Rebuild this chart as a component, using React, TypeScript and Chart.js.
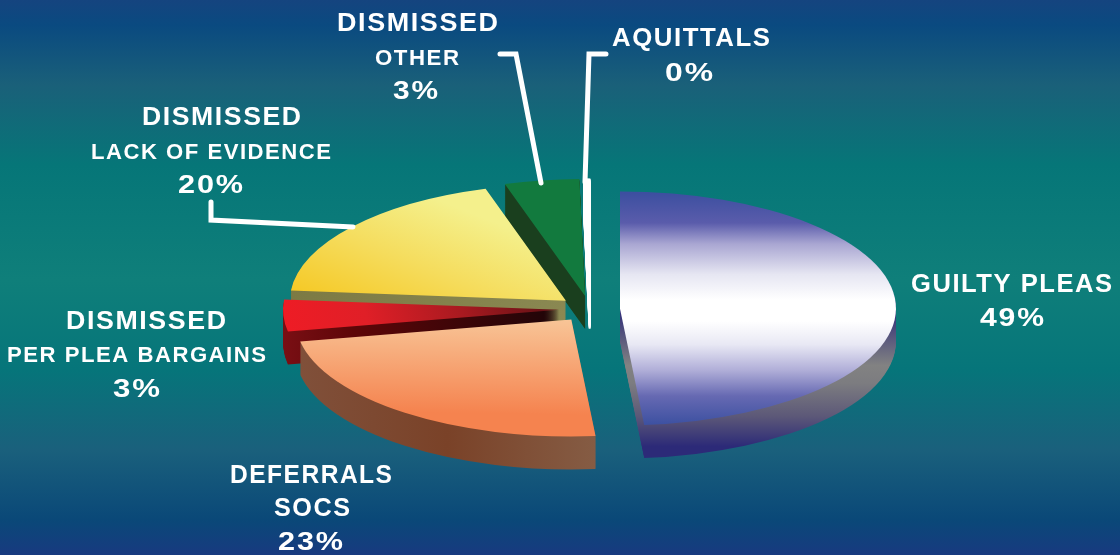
import React, { useEffect, useRef } from "react";
import { Chart, registerables } from "chart.js";

Chart.register(...registerables);

const categories = ["GUILTY PLEAS", "DEFERRALS SOCS", "DISMISSED PER PLEA BARGAINS", "DISMISSED LACK OF EVIDENCE", "DISMISSED OTHER", "AQUITTALS"];
const printedPercent = ["49%", "23%", "3%", "20%", "3%", "0%"];
// Share of the circle each slice really occupies in the picture
const sliceShares = [48.6, 23.4, 4.4, 18.9, 4.37, 0.33];

const W = 1120, H = 555;
const SQUASH = 0.424, DEPTH = 33, RADIUS = 276;
const PAINT_ORDER = [4, 5, 3, 2, 1, 0];
const EXPLODE = [30, 31, 31, 31, 31, 31];

type Stops = [number, string][];
type G = { from: [number, number]; to: [number, number]; stops: Stops };

const TOPS: G[] = [
  { from: [0, -116], to: [0, 118], stops: [[0, "#3c4fa0"], [0.13, "#5a5cab"], [0.22, "#a9a6d2"], [0.35, "#e6e6f2"], [0.46, "#ffffff"], [0.55, "#ffffff"], [0.65, "#e8e8f4"], [0.76, "#b0aed8"], [0.87, "#6669b2"], [1, "#3a4fa0"]] },
  { from: [0, 0], to: [-8, 95], stops: [[0, "#f8c597"], [1, "#f5834f"]] },
  { from: [-276, 10], to: [0, 0], stops: [[0, "#ee1c25"], [0.3, "#e01f27"], [0.65, "#a81a20"], [1, "#5e1014"]] },
  { from: [-275, -10], to: [-100, -90], stops: [[0, "#f5c926"], [0.5, "#f5dc5c"], [1, "#f4f08c"]] },
  { from: [0, 0], to: [0, -100], stops: [[0, "#127a3e"], [1, "#127a3e"]] },
  { from: [0, 0], to: [0, -100], stops: [[0, "#ffffff"], [1, "#ffffff"]] },
];
const WALLS: G[] = [
  { from: [0, 0], to: [0, 150], stops: [[0, "#2c2a78"], [0.38, "#828282"], [0.5, "#7c7c80"], [0.72, "#5c5878"], [0.92, "#2c2a78"], [1, "#2c2a78"]] },
  { from: [-272, 0], to: [24, 0], stops: [[0, "#80503a"], [0.5, "#7a4228"], [1, "#855c44"]] },
  { from: [-276, 0], to: [0, 0], stops: [[0, "#7a0f14"], [0.25, "#5e0608"], [1, "#1e0508"]] },
  { from: [-275, 0], to: [0, 0], stops: [[0, "#7c7a44"], [1, "#8a8852"]] },
  { from: [0, 0], to: [0, 100], stops: [[0, "#1a3f1e"], [1, "#1a3f1e"]] },
  { from: [0, 0], to: [0, 100], stops: [[0, "#ffffff"], [1, "#ffffff"]] },
];

const BG: Stops = [[0, "#15447f"], [25, "#0a4a80"], [85, "#1a6079"], [165, "#067678"], [280, "#0f7f7a"], [370, "#06757a"], [450, "#1a607c"], [520, "#0a4878"], [555, "#183a80"]];

// text, left, baseline, font size, drawn width
const LABEL_LINES: [string, number, number, number, number][] = [
  ["DISMISSED", 337, 31, 25, 161],
  ["OTHER", 375, 65, 22, 84],
  [printedPercent[4], 393, 99, 25, 45],
  ["AQUITTALS", 612, 46, 25, 158],
  [printedPercent[5], 665, 81, 25, 48],
  ["DISMISSED", 142, 125, 25, 159],
  ["LACK OF EVIDENCE", 91, 159, 22, 240],
  [printedPercent[3], 178, 193, 25, 65],
  ["DISMISSED", 66, 329, 25, 160],
  ["PER PLEA BARGAINS", 7, 362, 22, 259],
  [printedPercent[2], 113, 397, 25, 47],
  ["DEFERRALS", 230, 483, 25, 162],
  ["SOCS", 274, 516, 25, 76],
  [printedPercent[1], 278, 550, 25, 65],
  ["GUILTY PLEAS", 911, 292, 25, 201],
  [printedPercent[0], 980, 326, 25, 64],
];
const LEADERS: [number, number][][] = [
  [[500, 54], [516, 54], [541, 183]],
  [[606, 54], [589, 54], [585, 182]],
  [[211, 202], [211, 220], [353, 227]],
];

const piePlugin = {
  id: "pie3d",
  beforeDraw(chart: any) {
    const ctx = chart.ctx;
    const g = ctx.createLinearGradient(0, 0, 0, H);
    BG.forEach(([y, c]) => g.addColorStop(y / H, c));
    ctx.fillStyle = g;
    ctx.fillRect(0, 0, W, H);
  },
  beforeDatasetsDraw(chart: any) {
    const ctx = chart.ctx;
    const arcs = chart.getDatasetMeta(0).data;
    const { x: cx, y: cy } = arcs[0];
    const paint = (arc: any, i: number, def: G, drop: number) => {
      const fill = ctx.createLinearGradient(
        cx + def.from[0], cy + (def.from[1] - drop) / SQUASH,
        cx + def.to[0], cy + (def.to[1] - drop) / SQUASH);
      def.stops.forEach(([p, c]) => fill.addColorStop(p, c));
      const saved = arc.options;
      arc.options = i === 5
        ? { ...saved, backgroundColor: fill, borderColor: "#ffffff", borderWidth: 2 }
        : { ...saved, backgroundColor: fill, borderWidth: 0 };
      const mid = (arc.startAngle + arc.endAngle) / 2;
      ctx.save();
      ctx.translate(cx, cy + drop);
      ctx.scale(1, SQUASH);
      ctx.translate(-cx + Math.cos(mid) * EXPLODE[i], -cy + Math.sin(mid) * EXPLODE[i]);
      arc.draw(ctx);
      ctx.restore();
      arc.options = saved;
    };
    PAINT_ORDER.forEach((i) => {
      for (let d = DEPTH; d >= 1; d--) paint(arcs[i], i, WALLS[i], d);
      paint(arcs[i], i, TOPS[i], 0);
    });
    return false;
  },
  afterDraw(chart: any) {
    const ctx = chart.ctx;
    ctx.save();
    ctx.strokeStyle = "#ffffff";
    ctx.lineWidth = 5;
    ctx.lineCap = "round";
    ctx.lineJoin = "miter";
    LEADERS.forEach((pts) => {
      ctx.beginPath();
      pts.forEach(([x, y], k) => (k ? ctx.lineTo(x, y) : ctx.moveTo(x, y)));
      ctx.stroke();
    });
    ctx.fillStyle = "#ffffff";
    ctx.textAlign = "left";
    ctx.textBaseline = "alphabetic";
    LABEL_LINES.forEach(([text, x, y, size, width]) => {
      ctx.font = `bold ${size}px "Liberation Sans", Arial, sans-serif`;
      (ctx as any).letterSpacing = "1.5px";
      const natural = ctx.measureText(text).width - 1.5;
      ctx.save();
      ctx.translate(x, y);
      ctx.scale(width / natural, 1);
      ctx.fillText(text, 0, 0);
      ctx.restore();
    });
    ctx.restore();
  },
};

export default function App() {
  const ref = useRef<HTMLCanvasElement>(null);
  useEffect(() => {
    const chart = new Chart(ref.current as HTMLCanvasElement, {
      type: "pie",
      data: {
        labels: categories,
        datasets: [{ data: sliceShares, borderWidth: 0, backgroundColor: "#888" }],
      },
      options: {
        animation: false,
        responsive: false,
        devicePixelRatio: 1,
        radius: RADIUS,
        events: [],
        layout: { padding: { left: 60, top: 63 } },
        plugins: { legend: { display: false }, tooltip: { enabled: false } },
      } as any,
      plugins: [piePlugin as any],
    });
    return () => chart.destroy();
  }, []);
  return (
    <div style={{ position: "absolute", left: 0, top: 0, width: W, height: H, overflow: "hidden" }}>
      <canvas ref={ref} width={W} height={H} style={{ display: "block" }} />
    </div>
  );
}
